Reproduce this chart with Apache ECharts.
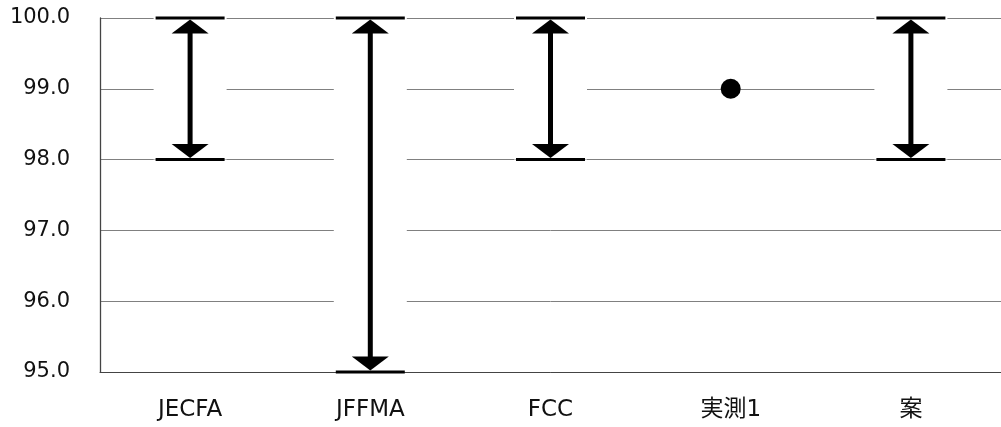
<!DOCTYPE html>
<html>
<head>
<meta charset="utf-8">
<script src="https://cdn.jsdelivr.net/npm/echarts@6/dist/echarts.min.js"></script>
<style>html,body{margin:0;padding:0;background:#fff;}#c{width:1001px;height:427px;}</style>
</head>
<body>
<div id="c"></div>
<script>
const categories = ['JECFA', 'JFFMA', 'FCC', '実測1', '案'];
const rangeMin = [98, 95, 98, null, 98];
const rangeMax = [100, 100, 100, null, 100];
const measured = [null, null, null, 99, null];
const yTicks = [95, 96, 97, 98, 99, 100];

const rangeData = [];
categories.forEach((c, i) => {
  if (rangeMin[i] != null) rangeData.push([i, rangeMin[i], rangeMax[i]]);
});
const pointData = categories.map((c, i) => measured[i] == null ? '-' : measured[i]);

const chart = echarts.init(document.getElementById('c'), null, {renderer: 'canvas'});
const font = "'DejaVu Sans', 'Noto Sans CJK JP', sans-serif";

chart.setOption({
  animation: false,
  backgroundColor: '#fff',
  grid: {left: 100, top: 18, width: 906, bottom: 55, containLabel: false},
  xAxis: {
    type: 'category',
    data: categories,
    boundaryGap: true,
    axisTick: {show: false},
    axisLine: {show: true, lineStyle: {color: '#444', width: 1}},
    axisLabel: {color: '#111', fontSize: 23, fontFamily: font, margin: 27}
  },
  yAxis: {
    type: 'value',
    min: yTicks[0],
    max: yTicks[yTicks.length - 1],
    interval: 1,
    axisTick: {show: false},
    axisLine: {show: true, lineStyle: {color: '#444', width: 1.3}},
    axisLabel: {color: '#111', fontSize: 21, fontFamily: font, margin: 30,
      formatter: v => v.toFixed(1)},
    splitLine: {show: true, lineStyle: {color: '#808080', width: 1}}
  },
  series: [
    {
      type: 'custom',
      clip: false,
      data: rangeData,
      encode: {x: 0, y: [1, 2]},
      renderItem: function (params, api) {
        const lo = api.coord([api.value(0), api.value(1)]);
        const hi = api.coord([api.value(0), api.value(2)]);
        const x = hi[0];
        const yt = hi[1];
        const yb = lo[1];
        const capW = 69, capH = 3, aw = 18.5, ah = 14, sw = 5;
        return {
          type: 'group',
          children: [
            {type: 'rect', shape: {x: x - 36.5, y: yt, width: 73, height: yb - yt}, style: {fill: '#fff'}},
            {type: 'rect', shape: {x: x - sw / 2, y: yt + 4, width: sw, height: yb - yt - 8}, style: {fill: '#000'}},
            {type: 'polygon', shape: {points: [[x, yt + 1.5], [x - aw, yt + 1.5 + ah], [x + aw, yt + 1.5 + ah]]}, style: {fill: '#000'}},
            {type: 'polygon', shape: {points: [[x, yb - 1.5], [x - aw, yb - 1.5 - ah], [x + aw, yb - 1.5 - ah]]}, style: {fill: '#000'}},
            {type: 'rect', shape: {x: x - capW / 2, y: yt - 1.5, width: capW, height: capH}, style: {fill: '#000'}},
            {type: 'rect', shape: {x: x - capW / 2, y: yb - 1.5, width: capW, height: capH}, style: {fill: '#000'}}
          ]
        };
      }
    },
    {
      type: 'scatter',
      data: pointData,
      symbol: 'circle',
      symbolSize: 20,
      itemStyle: {color: '#000', opacity: 1}
    }
  ]
});
</script>
</body>
</html>
